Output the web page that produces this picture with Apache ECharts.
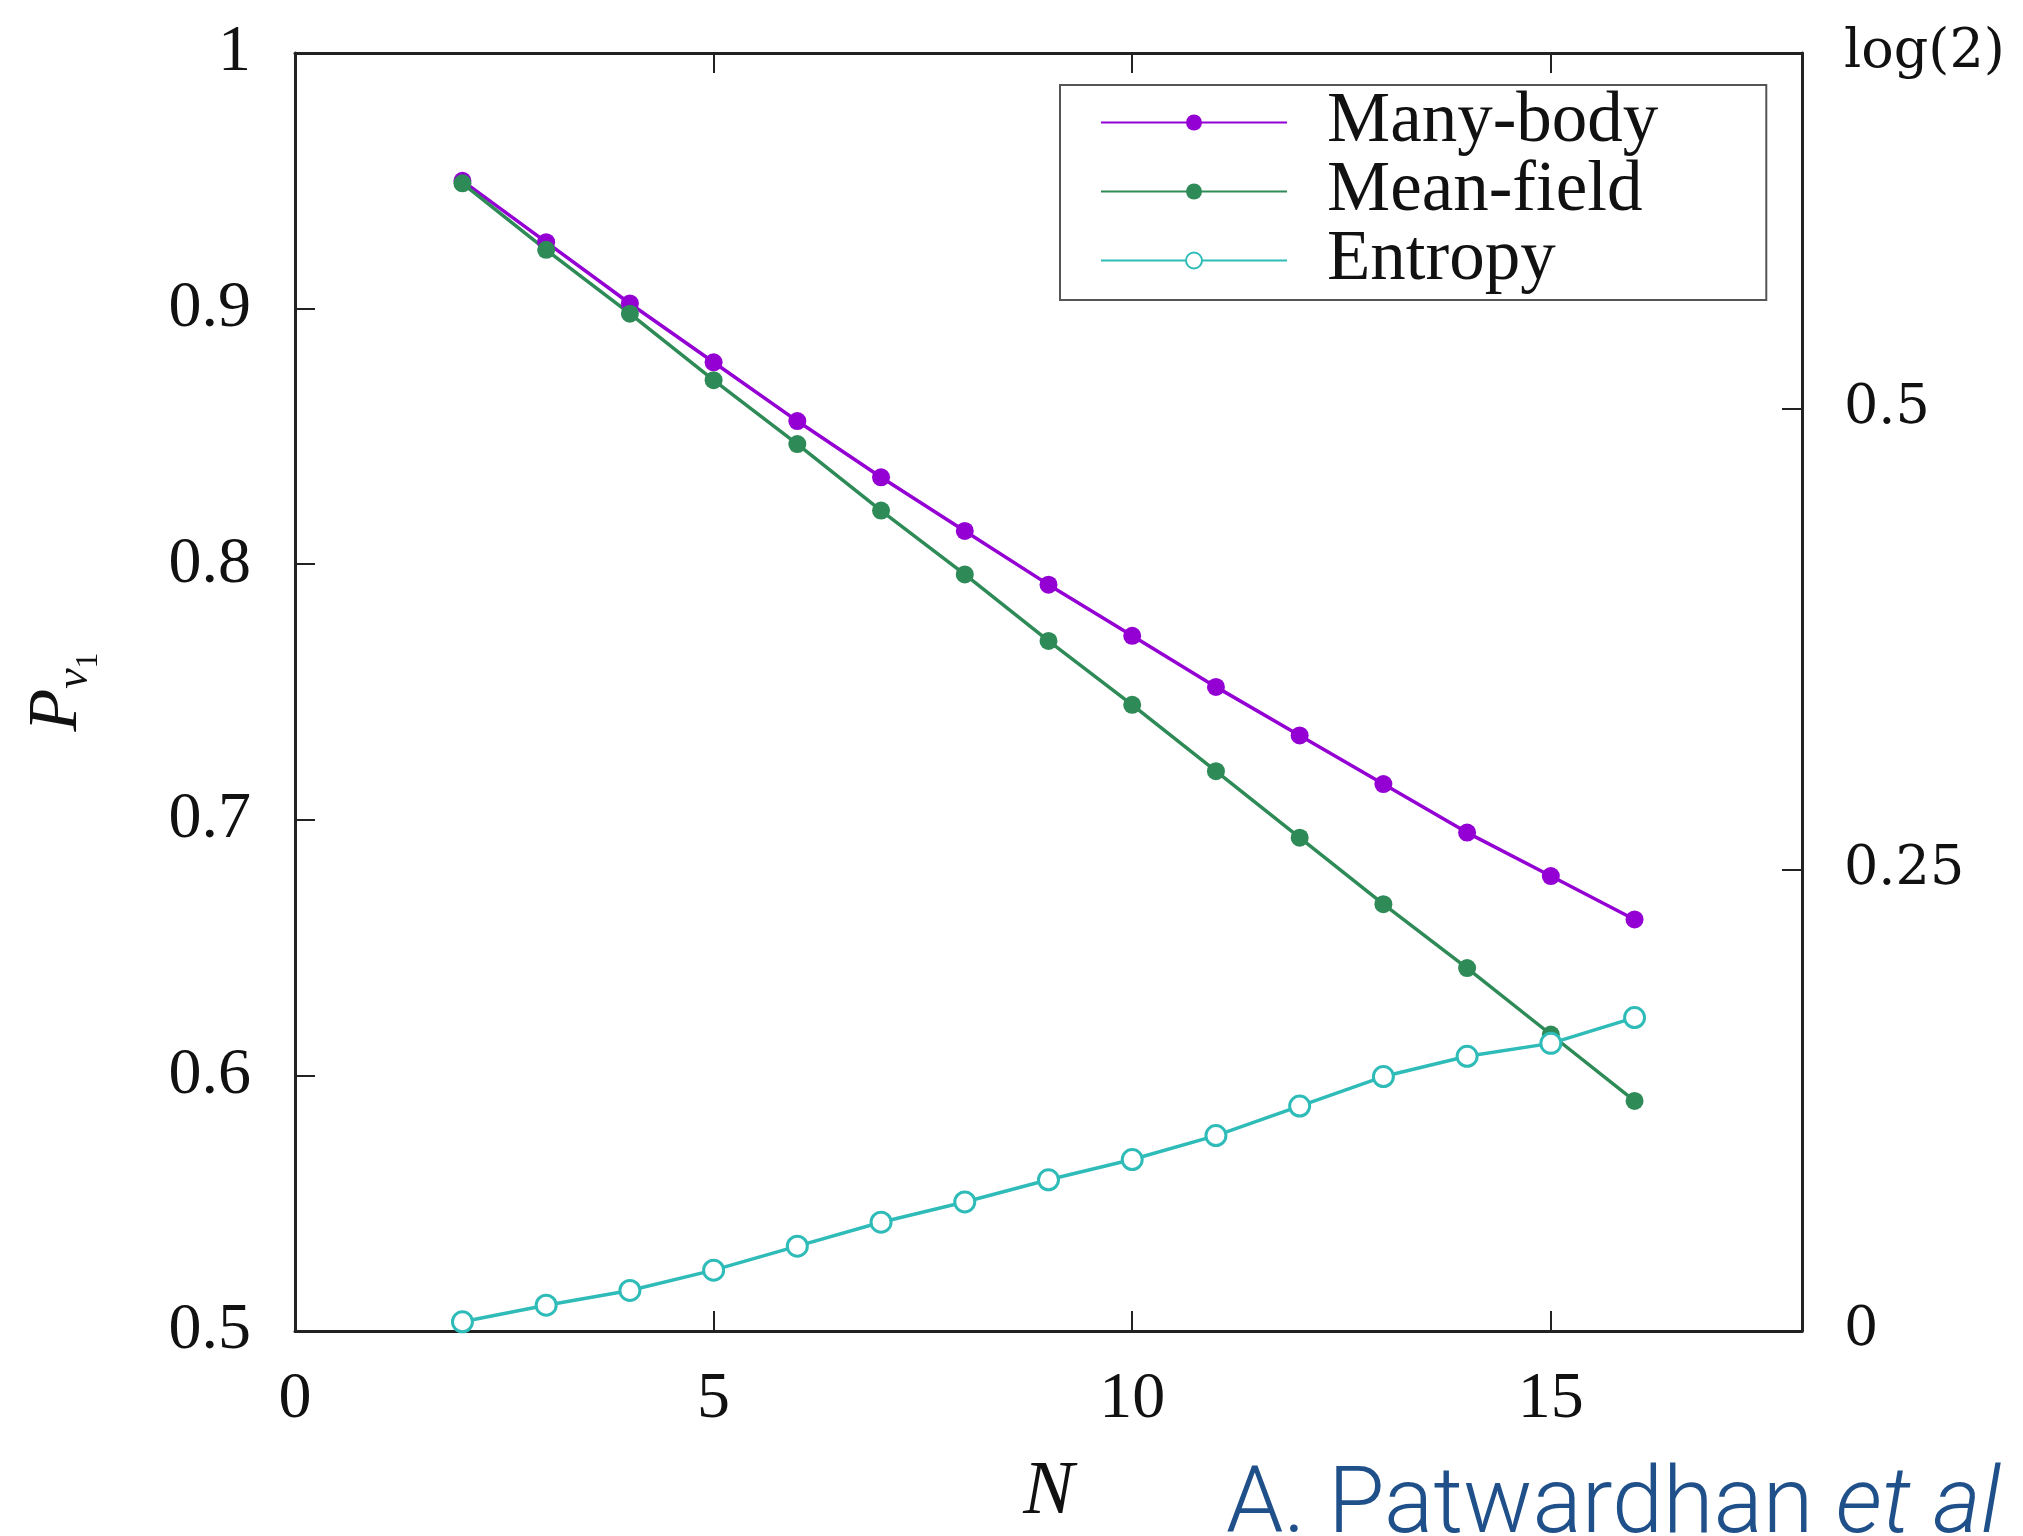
<!DOCTYPE html>
<html>
<head>
<meta charset="utf-8">
<script src="https://cdn.jsdelivr.net/npm/echarts@6/dist/echarts.min.js"></script>
<style>
  html, body { margin: 0; padding: 0; background: #ffffff; overflow: hidden; }
  #chart { width: 2023px; height: 1536px; }
</style>
</head>
<body>
<div id="chart"></div>
<script>
// System size N
const sizes = [2, 3, 4, 5, 6, 7, 8, 9, 10, 11, 12, 13, 14, 15, 16];
// Occupation probability of the leading natural orbital (left axis)
const manyBody = [0.950, 0.926, 0.902, 0.879, 0.856, 0.834, 0.813, 0.792, 0.772, 0.752, 0.733, 0.714, 0.695, 0.678, 0.661];
const meanField = [0.949, 0.923, 0.898, 0.872, 0.847, 0.821, 0.796, 0.770, 0.745, 0.719, 0.693, 0.667, 0.642, 0.616, 0.590];
// Entanglement entropy (right axis, 0 .. log 2)
const entropy = [0.005, 0.014, 0.022, 0.033, 0.046, 0.059, 0.070, 0.082, 0.093, 0.106, 0.122, 0.138, 0.149, 0.156, 0.170];
// Axis ticks
const xTicks = [0, 5, 10, 15];
const leftTicks = [0.5, 0.6, 0.7, 0.8, 0.9, 1];
const rightTicks = [0, 0.25, 0.5];
const seriesNames = ['Many-body', 'Mean-field', 'Entropy'];

const COLORS = { many: '#9400d3', mean: '#2e8b57', ent: '#2fbcb8', axis: '#222222' };
const SERIF = 'Liberation Serif';

const pairs = (xs, ys) => xs.map((x, i) => [x, ys[i]]);

const chart = echarts.init(document.getElementById('chart'), null, { renderer: 'canvas' });

const axisLine = { show: true, onZero: false, lineStyle: { color: COLORS.axis, width: 3 } };
const tickStyle = { inside: true, length: 20, lineStyle: { color: COLORS.axis, width: 2 } };

const option = {
  backgroundColor: '#ffffff',
  animation: false,
  grid: { left: 295, right: 221, top: 53, bottom: 202, containLabel: false },
  legend: {
    data: seriesNames,
    orient: 'vertical',
    left: 1060,
    top: 85,
    padding: [2, 108, 4, 40],
    itemWidth: 186,
    itemHeight: 20,
    itemGap: -2,
    borderColor: '#555555',
    borderWidth: 2,
    backgroundColor: '#ffffff',
    textStyle: { fontFamily: SERIF, fontSize: 71, color: '#111', padding: [0, 0, 0, 35] }
  },
  xAxis: [
    {
      type: 'value', position: 'bottom', min: 0, max: 18, interval: 5,
      name: 'N', nameLocation: 'middle', nameGap: 124,
      nameTextStyle: { fontFamily: SERIF, fontStyle: 'italic', fontSize: 76, color: '#111' },
      axisLine: axisLine,
      axisTick: tickStyle,
      splitLine: { show: false },
      axisLabel: {
        fontFamily: SERIF, fontSize: 66, color: '#111', margin: 36,
        customValues: xTicks
      }
    },
    {
      type: 'value', position: 'top', min: 0, max: 18, interval: 5,
      axisLine: axisLine,
      axisTick: tickStyle,
      axisLabel: { show: false },
      splitLine: { show: false }
    }
  ],
  yAxis: [
    {
      type: 'value', position: 'left', min: 0.5, max: 1, interval: 0.1,
      name: '{p|P}{s|ν}{t|1}', nameLocation: 'middle', nameGap: 190, nameRotate: 90,
      nameTextStyle: {
        rich: {
          p: { fontFamily: SERIF, fontStyle: 'italic', fontSize: 70, color: '#111' },
          s: { fontFamily: SERIF, fontStyle: 'italic', fontSize: 46, color: '#111', padding: [34, 0, 0, 0] },
          t: { fontFamily: SERIF, fontSize: 32, color: '#111', padding: [62, 0, 0, 0] }
        }
      },
      axisLine: axisLine,
      axisTick: tickStyle,
      splitLine: { show: false },
      axisLabel: {
        fontFamily: SERIF, fontSize: 66, color: '#111', margin: 44,
        customValues: leftTicks,
        formatter: v => String(Math.round(v * 10) / 10)
      }
    },
    {
      type: 'value', position: 'right', min: 0, max: Math.LN2, interval: 0.25,
      axisLine: axisLine,
      axisTick: { inside: true, length: 20, lineStyle: { color: COLORS.axis, width: 2 }, customValues: rightTicks },
      splitLine: { show: false },
      axisLabel: {
        fontFamily: 'DejaVu Serif', fontSize: 54, color: '#111', margin: 42,
        customValues: rightTicks.concat([Math.LN2]),
        formatter: v => (v > 0.6 ? 'log(2)' : String(v))
      }
    }
  ],
  series: [
    {
      name: 'Many-body', type: 'line', xAxisIndex: 0, yAxisIndex: 0,
      data: pairs(sizes, manyBody),
      symbol: 'circle', symbolSize: 18,
      lineStyle: { color: COLORS.many, width: 3.5 },
      itemStyle: { color: COLORS.many }
    },
    {
      name: 'Mean-field', type: 'line', xAxisIndex: 0, yAxisIndex: 0,
      data: pairs(sizes, meanField),
      symbol: 'circle', symbolSize: 18,
      lineStyle: { color: COLORS.mean, width: 3.5 },
      itemStyle: { color: COLORS.mean }
    },
    {
      name: 'Entropy', type: 'line', xAxisIndex: 0, yAxisIndex: 1,
      data: pairs(sizes, entropy),
      symbol: 'circle', symbolSize: 20,
      lineStyle: { color: COLORS.ent, width: 3.5 },
      itemStyle: { color: '#ffffff', borderColor: COLORS.ent, borderWidth: 3 }
    },
    {
      // centre dots of the open entropy markers
      name: 'Entropy-dot', type: 'scatter', xAxisIndex: 0, yAxisIndex: 1,
      data: pairs(sizes, entropy),
      symbol: 'circle', symbolSize: 3, silent: true,
      itemStyle: { color: COLORS.ent }
    }
  ],
  graphic: [
    {
      type: 'text',
      left: 1226,
      top: 1463,
      style: {
        text: '{a|A. Patwardhan }{b|et al}',
        rich: {
          a: { fontFamily: 'Roboto', fontWeight: 300, fontSize: 92, fill: '#1f5089' },
          b: { fontFamily: 'Roboto', fontWeight: 300, fontStyle: 'italic', fontSize: 92, fill: '#1f5089' }
        }
      }
    }
  ]
};

chart.setOption(option);
</script>
</body>
</html>
